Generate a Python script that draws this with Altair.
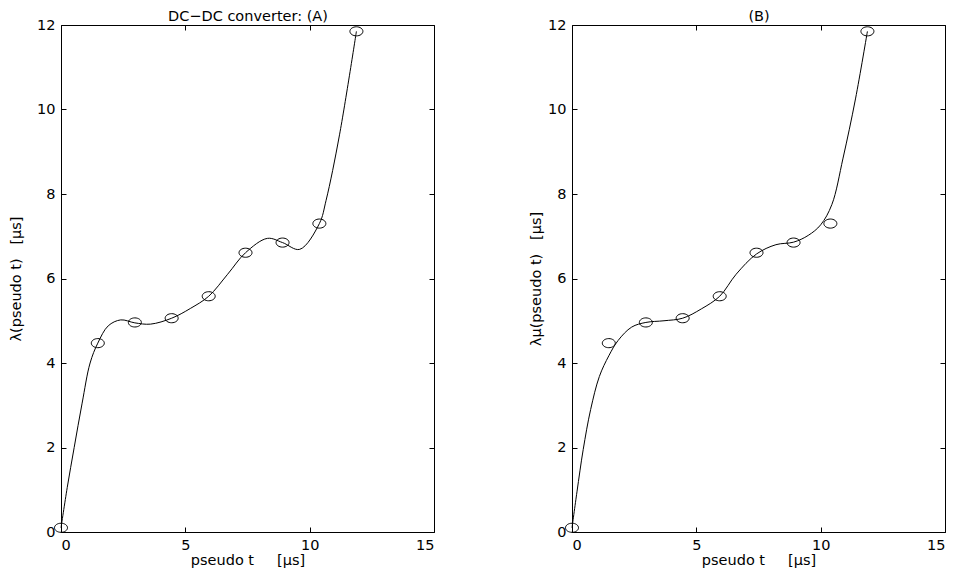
import altair as alt
import pandas as pd

# sample points (circles) – shared by both panels
pt_t = [0.0, 1.48, 2.97, 4.45, 5.94, 7.42, 8.91, 10.39, 11.88]
pt_y = [0.10, 4.47, 4.96, 5.06, 5.58, 6.61, 6.85, 7.30, 11.85]

# curve (A): interpolating curve
a_t = [0.0, 0.25, 0.53, 0.85, 1.17, 1.48, 1.9, 2.4, 2.97, 3.6, 4.45, 5.2, 5.94, 6.7, 7.42, 8.3, 8.91, 9.6, 10.39, 10.66, 11.2, 11.88]
a_y = [0.10, 1.05, 2.00, 3.05, 4.00, 4.47, 4.88, 5.02, 4.95, 4.92, 5.06, 5.29, 5.58, 6.10, 6.61, 6.95, 6.85, 6.69, 7.30, 7.85, 9.40, 11.85]

# curve (B): smoothing curve
b_t = [0.0, 0.2, 0.45, 0.75, 1.1, 1.48, 1.85, 2.4, 2.97, 3.7, 4.45, 5.2, 5.94, 6.6, 7.42, 8.2, 8.91, 9.5, 10.0, 10.45, 10.9, 11.4, 11.88]
b_y = [0.10, 0.95, 1.95, 2.90, 3.68, 4.17, 4.53, 4.85, 4.96, 5.00, 5.06, 5.28, 5.58, 6.10, 6.58, 6.80, 6.86, 7.02, 7.27, 7.75, 8.85, 10.25, 11.85]

x_ticks = [0, 5, 10, 15]
y_ticks = [0, 2, 4, 6, 8, 10, 12]

FONT = "DejaVu Sans"
FS = 14.5
ELLIPSE = "M -1 0 A 1 0.7 0 1 1 1 0 A 1 0.7 0 1 1 -1 0 Z"
NB = "\u00a0"


def panel(curve_t, curve_y, title, ytitle, title_pad):
    curve = pd.DataFrame({"t": curve_t, "v": curve_y})
    pts = pd.DataFrame({"t": pt_t, "v": pt_y})
    xs = alt.Scale(domain=[0, 15], nice=False, zero=False)
    ys = alt.Scale(domain=[0, 12], nice=False, zero=False)
    common = dict(offset=-5, tickSize=5, domain=False, grid=False,
                  tickColor="black", tickWidth=1, minExtent=0,
                  labelFont=FONT, labelFontSize=FS, labelColor="black",
                  titleFont=FONT, titleFontSize=FS, titleFontWeight="normal",
                  titleColor="black")
    line = alt.Chart(curve).mark_line(
        color="black", strokeWidth=1, interpolate="catmull-rom"
    ).encode(
        x=alt.X("t:Q", scale=xs, axis=alt.Axis(
            orient="bottom", values=x_ticks, title="pseudo t" + NB * 5 + "[μs]",
            labelPadding=6, titlePadding=2, **common)),
        y=alt.Y("v:Q", scale=ys, axis=alt.Axis(
            orient="left", values=y_ticks, title=ytitle,
            labelPadding=6, titlePadding=title_pad, **common)),
    )
    dots = alt.Chart(pts).mark_point(
        shape=ELLIPSE, size=169, color="black", strokeWidth=1, filled=False, opacity=1
    ).encode(
        x=alt.X("t:Q", scale=xs, axis=alt.Axis(
            orient="top", values=x_ticks, labels=False, title=title,
            titlePadding=1, **common)),
        y=alt.Y("v:Q", scale=ys, axis=alt.Axis(
            orient="right", values=y_ticks, labels=False, title=None, **common)),
    )
    return alt.layer(line, dots).resolve_axis(
        x="independent", y="independent"
    ).properties(width=373, height=507)


left = panel(a_t, a_y, "DC−DC converter: (A)", "λ(pseudo t)" + NB * 3 + "[μs]", 13)
right = panel(b_t, b_y, "(B)", "λμ(pseudo t)" + NB * 3 + "[μs]", 4)

chart = alt.hconcat(left, right, spacing=93).properties(
    padding={"left": 0, "top": 0, "right": 0, "bottom": 0},
    background="white",
).configure_view(
    stroke="black", strokeWidth=1
)

chart.save("out.html", embed_options={"renderer": "svg", "actions": False})
